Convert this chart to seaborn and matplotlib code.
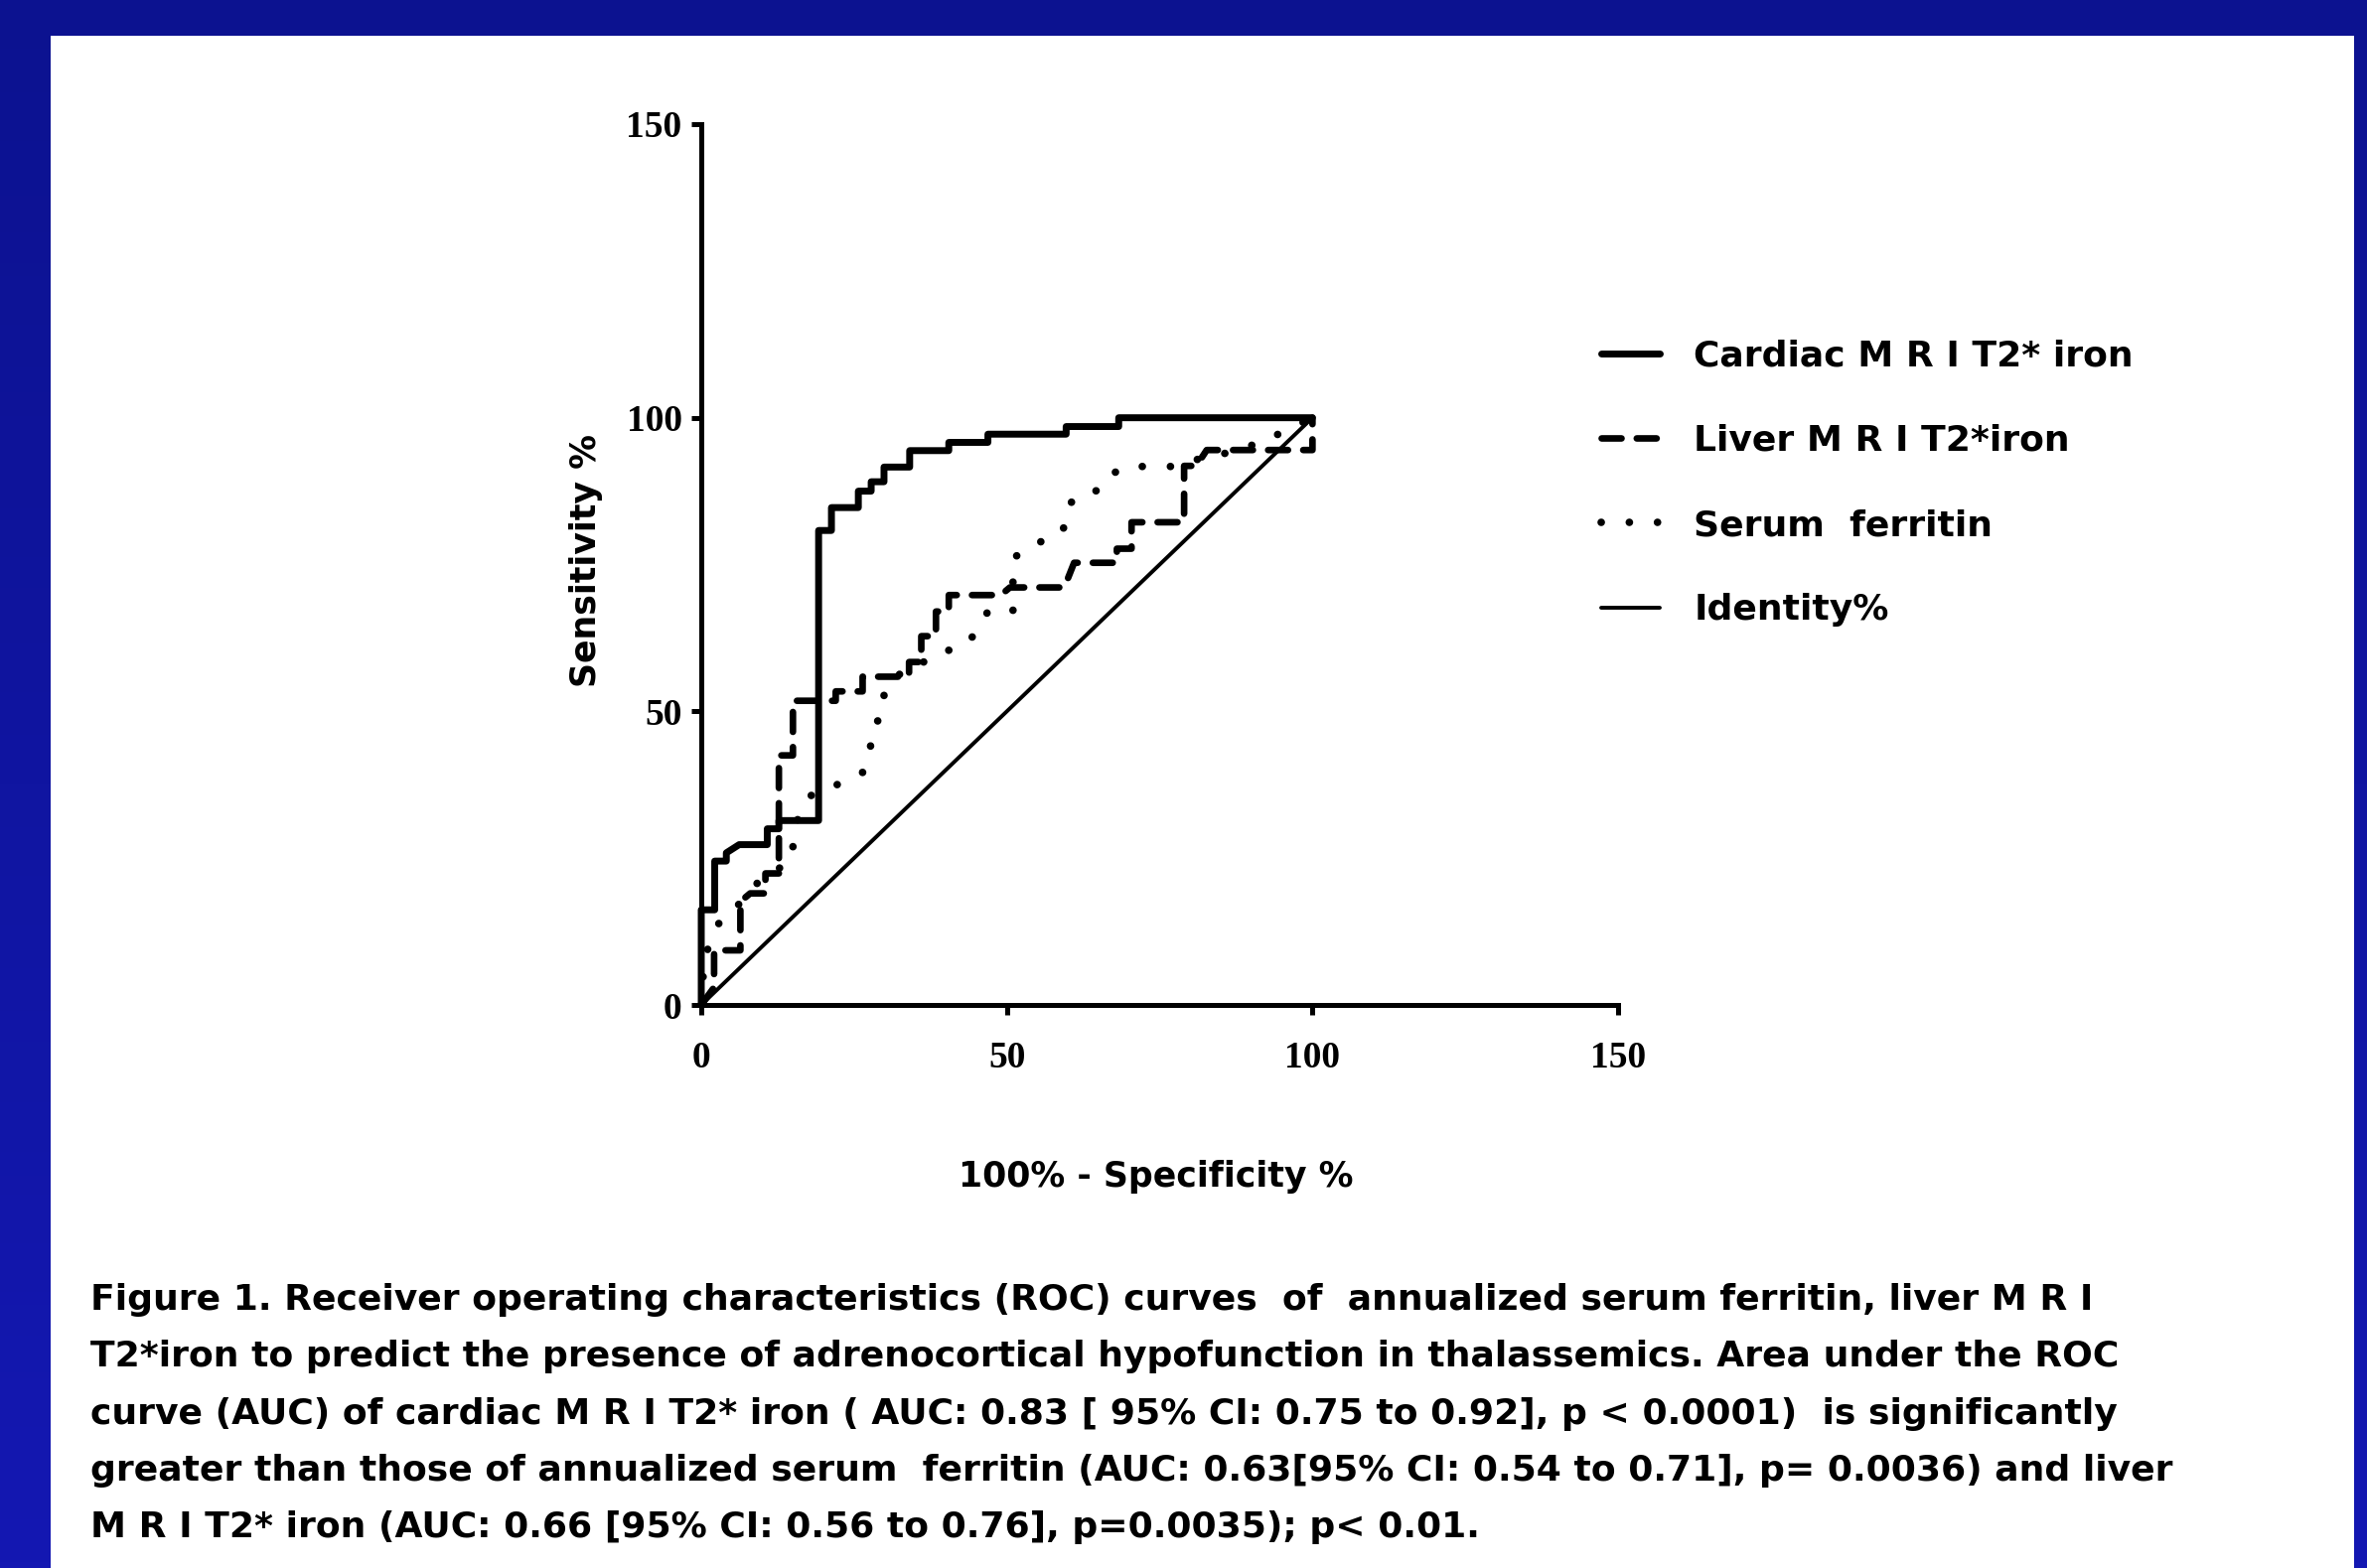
import numpy as np
import matplotlib
matplotlib.use("Agg")
import matplotlib.pyplot as plt
from matplotlib.patches import Rectangle
from matplotlib.colors import LinearSegmentedColormap
import seaborn as sns

# ROC curves (100% - specificity, sensitivity)
cardiac_x = [0, 0, 2.2, 2.2, 4.1, 4.1, 6.2, 10.8, 10.8, 12.7, 12.7, 19.2, 19.2,
             21.3, 21.3, 25.7, 25.7, 27.8, 27.8, 29.9, 29.9, 34.1, 34.1, 40.5,
             40.5, 46.9, 46.9, 59.7, 59.7, 68.3, 68.3, 100]
cardiac_y = [0, 16.2, 16.2, 24.5, 24.5, 25.9, 27.3, 27.3, 30.0, 30.0, 31.4, 31.4,
             80.8, 80.8, 84.7, 84.7, 87.5, 87.5, 89.1, 89.1, 91.6, 91.6, 94.4,
             94.4, 95.8, 95.8, 97.2, 97.2, 98.5, 98.5, 100, 100]

liver_x = [0, 2.1, 2.1, 6.4, 6.4, 8.0, 10.5, 10.5, 12.7, 12.7, 15.0, 15.0, 22.0,
           22.0, 26.4, 26.4, 34.0, 34.0, 36.0, 36.0, 38.4, 38.4, 40.5, 40.5, 49.0,
           50.5, 59.4, 61.0, 68.0, 68.0, 70.4, 70.4, 79.0, 79.0, 81.0, 82.7, 100, 100]
liver_y = [0, 3.0, 9.3, 9.3, 17.6, 19.0, 19.0, 22.4, 22.4, 42.5, 42.5, 51.8, 51.8,
           53.4, 53.4, 55.9, 55.9, 58.4, 58.4, 62.8, 62.8, 67.0, 67.0, 69.8, 69.8,
           71.1, 71.1, 75.3, 75.3, 77.7, 77.7, 82.2, 82.2, 91.8, 91.8, 94.5, 94.5, 100]

ferritin_x = [0, 0.5, 2.0, 3.4, 6.0, 8.0, 10.0, 12.4, 15.0, 15.0, 17.8, 20.7, 23.5,
              26.4, 27.7, 27.7, 29.9, 29.9, 32.0, 34.3, 37.9, 40.5, 43.6, 45.3,
              46.9, 51.0, 51.0, 53.5, 56.3, 59.2, 59.7, 61.8, 65.2, 66.9, 69.7,
              78.0, 81.7, 86.0, 91.6, 94.4, 100]
ferritin_y = [0, 8.0, 12.0, 15.0, 17.0, 19.0, 22.0, 23.0, 25.0, 30.0, 35.6, 36.7,
              38.2, 39.6, 42.6, 47.2, 49.4, 54.0, 55.9, 58.0, 58.7, 60.4, 61.5,
              64.2, 67.0, 67.0, 76.0, 78.0, 79.2, 80.6, 84.7, 86.9, 87.7, 90.3,
              91.7, 91.7, 93.1, 94.0, 95.8, 97.2, 100]

identity_x = [0, 100]
identity_y = [0, 100]

ticks = [0, 50, 100, 150]
legend_labels = ["Cardiac M R I T2* iron", "Liver M R I T2*iron",
                 "Serum  ferritin", "Identity%"]
caption_lines = [
    "Figure 1. Receiver operating characteristics (ROC) curves  of  annualized serum ferritin, liver M R I",
    "T2*iron to predict the presence of adrenocortical hypofunction in thalassemics. Area under the ROC",
    "curve (AUC) of cardiac M R I T2* iron ( AUC: 0.83 [ 95% CI: 0.75 to 0.92], p < 0.0001)  is significantly",
    "greater than those of annualized serum  ferritin (AUC: 0.63[95% CI: 0.54 to 0.71], p= 0.0036) and liver",
    "M R I T2* iron (AUC: 0.66 [95% CI: 0.56 to 0.76], p=0.0035); p< 0.01.",
]

sns.set_theme(style="ticks")
plt.rcParams['font.family'] = ['DejaVu Sans']
plt.rcParams['font.weight'] = 'bold'

W, H = 2383, 1579
fig = plt.figure(figsize=(W / 100, H / 100), dpi=100)

# blue slide background with white panel
bg = fig.add_axes([0, 0, 1, 1], zorder=0)
blue = LinearSegmentedColormap.from_list("slide", ["#0c1290", "#1418b2"])
bg.imshow(np.linspace(0, 1, 256).reshape(-1, 1), cmap=blue, aspect='auto',
          extent=[0, 1, 0, 1])
bg.add_patch(Rectangle((51 / W, 0), (2370 - 51) / W, 1 - 36 / H,
                       facecolor='white', edgecolor='none'))
bg.set_xlim(0, 1)
bg.set_ylim(0, 1)
bg.axis('off')

ax = fig.add_axes([706 / W, 1 - 1012 / H, (1629 - 706) / W, (1012 - 125) / H], zorder=1)
ax.patch.set_alpha(0)

sns.lineplot(x=cardiac_x, y=cardiac_y, ax=ax, sort=False, estimator=None,
             color='black', lw=5, clip_on=False, label=legend_labels[0])
sns.lineplot(x=liver_x, y=liver_y, ax=ax, sort=False, estimator=None,
             color='black', lw=4.8, linestyle=(0, (3.0, 2.3)), dash_capstyle='round',
             clip_on=False, label=legend_labels[1])
sns.lineplot(x=ferritin_x, y=ferritin_y, ax=ax, sort=False, estimator=None,
             color='black', lw=5.5, linestyle=(0, (0.01, 3.7)), dash_capstyle='round',
             clip_on=False, label=legend_labels[2])
sns.lineplot(x=identity_x, y=identity_y, ax=ax, sort=False, estimator=None,
             color='black', lw=2.8, clip_on=False, label=legend_labels[3])

ax.set_xlim(0, 150)
ax.set_ylim(0, 150)
ax.set_xticks(ticks)
ax.set_yticks(ticks)
ax.set_xlabel('')
ax.set_ylabel('')
sns.despine(ax=ax)
for s in ['left', 'bottom']:
    ax.spines[s].set_linewidth(3.6)
    ax.spines[s].set_color('black')
ax.tick_params(direction='out', length=7, width=3.6, color='black')
ax.tick_params(axis='x', pad=19)
ax.tick_params(axis='y', pad=7)
for lab in ax.get_xticklabels() + ax.get_yticklabels():
    lab.set_family('Liberation Serif')
    lab.set_fontweight('bold')
    lab.set_fontsize(27)
    lab.set_color('black')

fig.text(590 / W, 1 - 565 / H, 'Sensitivity %', rotation=90, ha='center',
         va='center', fontsize=25, fontweight='bold', color='black')
fig.text(1164 / W, 1 - 1185 / H, '100% - Specificity %', ha='center',
         va='center', fontsize=25, fontweight='bold', color='black')

leg = ax.legend(loc='upper left', bbox_to_anchor=(1579 / W, 1 - 309 / H),
                bbox_transform=fig.transFigure, frameon=False, fontsize=26,
                handlelength=1.65, handletextpad=0.95, labelspacing=1.42)
for t in leg.get_texts():
    t.set_fontweight('bold')
    t.set_color('black')

for i, line in enumerate(caption_lines):
    fig.text(91 / W, 1 - (1309 + 57.3 * i) / H, line, ha='left', va='center',
             fontsize=26, fontweight='bold', color='black')

fig.savefig('out.png', dpi=100)
